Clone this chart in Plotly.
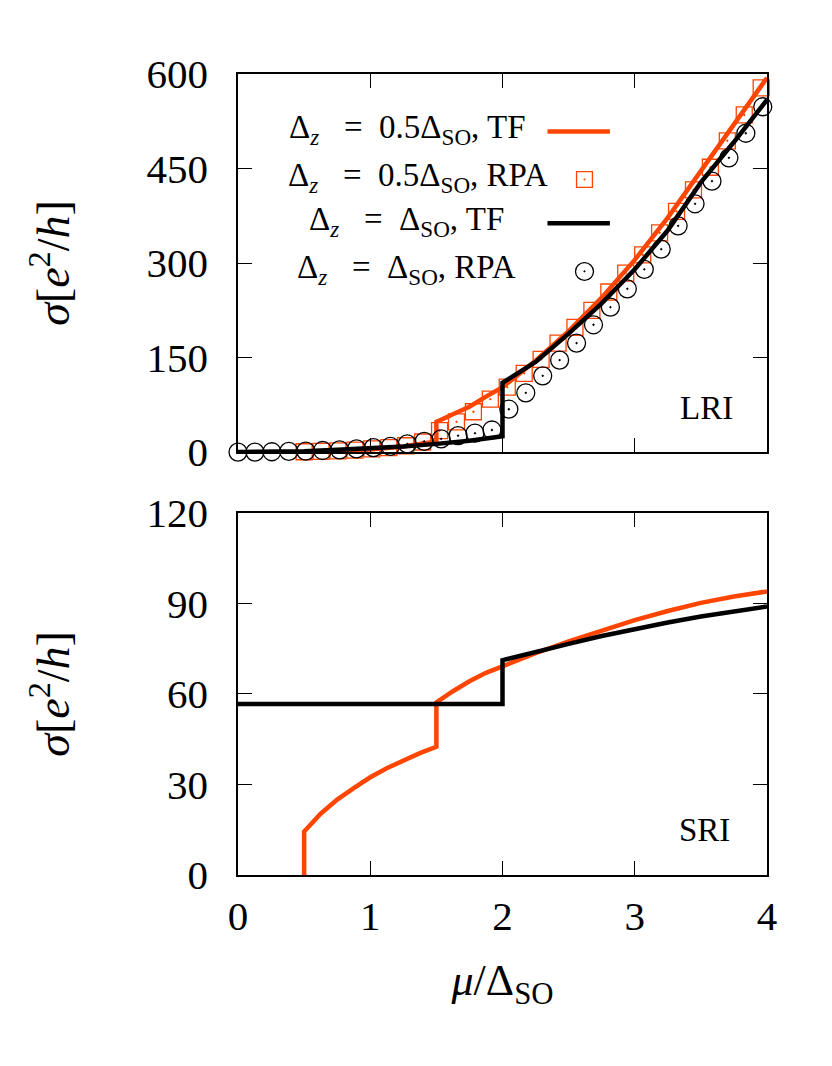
import plotly.graph_objects as go

# ---------------- data ----------------
# Top panel (LRI): RPA points
mu_rpa_d1 = [0.000, 0.128, 0.256, 0.384, 0.512, 0.640, 0.768, 0.896, 1.024, 1.152,
             1.280, 1.408, 1.536, 1.664, 1.792, 1.920, 2.048, 2.176, 2.304, 2.432,
             2.560, 2.688, 2.816, 2.944, 3.072, 3.200, 3.328, 3.456, 3.584, 3.712,
             3.840, 3.968]
sig_rpa_d1 = [0, 0, 0.5, 1, 1.5, 2.5, 3.5, 5, 7, 9,
              13, 17, 21, 26, 30, 35, 68, 94, 121, 146,
              173, 202, 230, 259, 290, 322, 359, 394, 430, 467,
              506, 548]

mu_rpa_d05 = [0.500, 0.628, 0.756, 0.884, 1.012, 1.140, 1.268, 1.396, 1.524, 1.652,
              1.780, 1.908, 2.036, 2.164, 2.292, 2.420, 2.548, 2.676, 2.804, 2.932,
              3.060, 3.188, 3.316, 3.444, 3.572, 3.700, 3.828, 3.956]
sig_rpa_d05 = [0.5, 1, 2, 3, 5, 7, 10, 16, 34, 48,
               64, 84, 103, 125, 147, 173, 198, 225, 254, 284,
               313, 348, 382, 416, 452, 494, 535, 578]

# Top panel (LRI): TF curves
mu_tf_d05_lri = [0.5, 0.75, 1.0, 1.25, 1.5, 1.5, 1.625, 1.75, 1.875, 2.0,
                 2.25, 2.5, 2.75, 3.0, 3.25, 3.5, 3.75, 4.0]
sig_tf_d05_lri = [0, 1, 4, 9, 17, 48, 60, 72, 88, 103,
                  145, 192, 245, 305, 372, 445, 518, 594]

mu_tf_d1_lri = [0.0, 0.25, 0.5, 0.75, 1.0, 1.25, 1.5, 1.75, 2.0, 2.0,
                2.25, 2.5, 2.75, 3.0, 3.25, 3.5, 3.75, 4.0]
sig_tf_d1_lri = [0, 0.5, 1.5, 3.5, 6, 9, 13, 18, 25, 110,
                 143, 188, 236, 290, 352, 428, 492, 559]

# Bottom panel (SRI): TF curves
mu_tf_d05_sri = [0.5, 0.5, 0.625, 0.75, 0.875, 1.0, 1.125, 1.25, 1.375, 1.5,
                 1.5, 1.625, 1.75, 1.875, 2.0, 2.25, 2.5, 2.75, 3.0, 3.25, 3.5, 3.75, 4.0]
sig_tf_d05_sri = [0, 14.4, 20.3, 25.0, 28.8, 32.4, 35.4, 38.0, 40.4, 42.5,
                  57.2, 60.9, 64.2, 67.0, 69.3, 73.5, 77.4, 81.1, 84.5, 87.5, 90.2, 92.3, 94.0]

mu_tf_d1_sri = [0.0, 2.0, 2.0, 2.25, 2.5, 2.75, 3.0, 3.25, 3.5, 3.75, 4.0]
sig_tf_d1_sri = [56.7, 56.7, 71.2, 74.0, 76.6, 79.2, 81.6, 83.7, 85.7, 87.4, 89.0]

x_ticks = [0, 1, 2, 3, 4]
y_ticks_top = [0, 150, 300, 450, 600]
y_ticks_bot = [0, 30, 60, 90, 120]

SP1 = "&nbsp;&nbsp;&nbsp;"
SP2 = "&nbsp;&nbsp;"
legend_labels = [
    f"Δ<sub><i>z</i></sub>{SP1}={SP2}0.5Δ<sub>SO</sub>, TF",
    f"Δ<sub><i>z</i></sub>{SP1}={SP2}0.5Δ<sub>SO</sub>, RPA",
    f"Δ<sub><i>z</i></sub>{SP1}={SP2}Δ<sub>SO</sub>, TF",
    f"Δ<sub><i>z</i></sub>{SP1}={SP2}Δ<sub>SO</sub>, RPA",
]

# ---------------- styling ----------------
ORANGE = "#ff4500"
BLACK = "#000000"
FONT = "Liberation Serif"

fig = go.Figure()

# top panel
fig.add_trace(go.Scatter(x=mu_tf_d05_lri, y=sig_tf_d05_lri, mode="lines",
                         line=dict(color=ORANGE, width=4.5), xaxis="x", yaxis="y",
                         showlegend=False))
fig.add_trace(go.Scatter(x=mu_rpa_d05, y=sig_rpa_d05, mode="markers",
                         marker=dict(symbol="square-open-dot", size=16, color=ORANGE,
                                     line=dict(width=1.3, color=ORANGE)),
                         cliponaxis=False, xaxis="x", yaxis="y", showlegend=False))
fig.add_trace(go.Scatter(x=mu_tf_d1_lri, y=sig_tf_d1_lri, mode="lines",
                         line=dict(color=BLACK, width=4.5), xaxis="x", yaxis="y",
                         showlegend=False))
fig.add_trace(go.Scatter(x=mu_rpa_d1, y=sig_rpa_d1, mode="markers",
                         marker=dict(symbol="circle-open-dot", size=18, color=BLACK,
                                     line=dict(width=1.3, color=BLACK)),
                         cliponaxis=False, xaxis="x", yaxis="y", showlegend=False))

# bottom panel
fig.add_trace(go.Scatter(x=mu_tf_d05_sri, y=sig_tf_d05_sri, mode="lines",
                         line=dict(color=ORANGE, width=4.5), xaxis="x2", yaxis="y2",
                         showlegend=False))
fig.add_trace(go.Scatter(x=mu_tf_d1_sri, y=sig_tf_d1_sri, mode="lines",
                         line=dict(color=BLACK, width=4.5), xaxis="x2", yaxis="y2",
                         showlegend=False))

axis_common = dict(showline=True, linecolor="black", linewidth=1.5, mirror="ticks",
                   ticks="inside", ticklen=14, tickwidth=1.2, tickcolor="black",
                   showgrid=False, zeroline=False,
                   tickfont=dict(family=FONT, size=41, color="black"))

ytitle = "<i>σ</i>[<i>e</i><sup>2</sup>/<i>h</i>]"

fig.update_layout(
    width=832, height=1066,
    margin=dict(l=230, r=73, t=66, b=199),
    paper_bgcolor="white", plot_bgcolor="white",
    font=dict(family=FONT, color="black"),
    xaxis=dict(domain=[0, 1], range=[0, 4], tickvals=x_ticks, showticklabels=False,
               anchor="y", **axis_common),
    yaxis=dict(domain=[0.528, 1.0], range=[0, 600], tickvals=y_ticks_top,
               anchor="x", ticklabelstandoff=20,
               title=dict(text=ytitle, font=dict(family=FONT, size=46), standoff=62),
               **axis_common),
    xaxis2=dict(domain=[0, 1], range=[0, 4], tickvals=x_ticks, anchor="y2",
                ticklabelstandoff=4,
                title=dict(text="<i>μ</i>/Δ<sub>SO</sub>",
                           font=dict(family=FONT, size=44), standoff=26),
                **axis_common),
    yaxis2=dict(domain=[0, 0.452], range=[0, 120], tickvals=y_ticks_bot,
                anchor="x2", ticklabelstandoff=20,
                title=dict(text=ytitle, font=dict(family=FONT, size=46), standoff=62),
                **axis_common),
)

# panel labels
fig.add_annotation(text="LRI", x=0.94, y=0.116, xref="x domain", yref="y domain",
                   showarrow=False, font=dict(family=FONT, size=33), xanchor="right",
                   yanchor="middle")
fig.add_annotation(text="SRI", x=0.934, y=0.124, xref="x2 domain", yref="y2 domain",
                   showarrow=False, font=dict(family=FONT, size=33), xanchor="right",
                   yanchor="middle")

# legend (text left, sample right) drawn in top-panel domain coords
leg_y = [0.853, 0.726, 0.610, 0.483]   # fraction of top panel height
text_right = [0.548, 0.590, 0.506, 0.530]
for i, lab in enumerate(legend_labels):
    fig.add_annotation(text=lab, x=text_right[i], y=leg_y[i], xref="x domain",
                       yref="y domain", showarrow=False, xanchor="right",
                       yanchor="middle", font=dict(family=FONT, size=33))

# sample lines
for i, col in [(0, ORANGE), (2, BLACK)]:
    fig.add_shape(type="line", xref="x domain", yref="y domain",
                  x0=0.585, x1=0.703, y0=leg_y[i] - 0.005, y1=leg_y[i] - 0.005,
                  line=dict(color=col, width=4.5))
# sample markers
mx = 0.655
fig.add_shape(type="rect", xref="x domain", yref="y domain",
              x0=mx - 0.015, x1=mx + 0.015, y0=leg_y[1] - 0.026, y1=leg_y[1] + 0.016,
              line=dict(color=ORANGE, width=1.3))
fig.add_shape(type="circle", xref="x domain", yref="y domain",
              x0=mx - 0.017, x1=mx + 0.017, y0=leg_y[3] - 0.029, y1=leg_y[3] + 0.018,
              line=dict(color=BLACK, width=1.3))
for i, col in [(1, ORANGE), (3, BLACK)]:
    yc = leg_y[i] - 0.005
    fig.add_shape(type="circle", xref="x domain", yref="y domain",
                  x0=mx - 0.0015, x1=mx + 0.0015, y0=yc - 0.002, y1=yc + 0.002,
                  fillcolor=col, line=dict(color=col, width=0.5))

fig.write_html("out.html")
